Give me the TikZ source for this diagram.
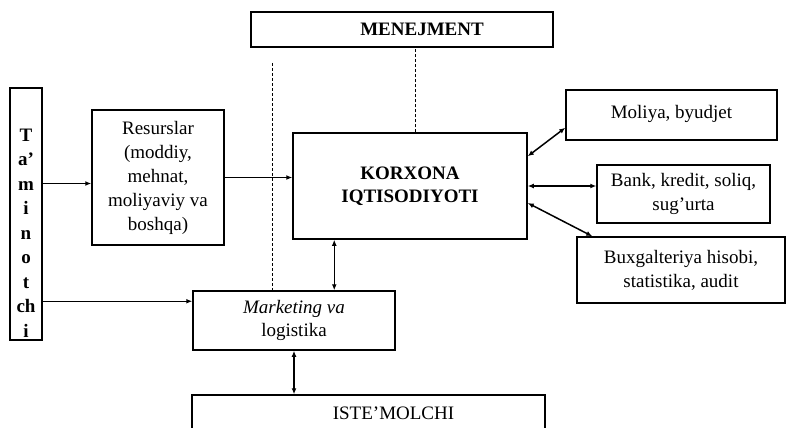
\documentclass[tikz,border=0pt]{standalone}
\usepackage{fontspec}
\setmainfont{Liberation Serif}
\usetikzlibrary{positioning,arrows.meta}

\begin{document}
\begin{tikzpicture}[x=1pt, y=-1pt,
  box/.style={draw, rectangle, line width=1.5pt, inner sep=0pt, align=center, font=\fontsize{19}{24}\selectfont},
  arr/.style={-{Latex[length=6pt,width=5pt]}, line width=1.5pt},
  darr/.style={{Latex[length=6pt,width=5pt]}-{Latex[length=6pt,width=5pt]}, line width=1.5pt},
  guide/.style={line width=0.5pt, dash pattern=on 3pt off 2pt}]
\useasboundingbox (0,0) rectangle (787,428);

\node[box, minimum width=302, minimum height=35, font=\bfseries\fontsize{19}{24}\selectfont] (Men) at (402,29.5) {\hspace*{40pt}MENEJMENT};
\node[box, minimum width=32, minimum height=252] (Tam) at (26,214) {};
\node[font=\bfseries\fontsize{19}{24.5}\selectfont, align=center] (TamText) at ([yshift=-19pt]Tam.center) {T\\a'\\m\\i\\n\\o\\t\\ch\\i};
\node[box, minimum width=132, minimum height=135] (Res) at (158,177.5) {Resurslar\\(moddiy,\\mehnat,\\moliyaviy va\\boshqa)};
\node[box, minimum width=234, minimum height=106, font=\bfseries\fontsize{19}{23}\selectfont] (Kor) at (410,186) {KORXONA\\IQTISODIYOTI};
\node[box, minimum width=211, minimum height=50] (Mol) at (671.5,115) {\raisebox{6pt}{Moliya, byudjet}};
\node[box, minimum width=173, minimum height=58] (Bank) at (683.5,194) {Bank, kredit, soliq,\\sug'urta};
\node[box, minimum width=208, minimum height=66] (Bux) at (681,270) {Buxgalteriya hisobi,\\statistika, audit};
\node[box, minimum width=202, minimum height=59, font=\fontsize{19}{23}\selectfont] (Mar) at (294,320.5) {\textit{Marketing va}\\logistika};
\node[box, minimum width=353, minimum height=36] (Ist) at (368.5,413) {\hspace*{50pt}ISTE'MOLCHI};

% dashed guides
\coordinate (G1) at (272,63);
\draw[guide] (G1) -- (G1 |- Mar.north);
\draw[guide] ([xshift=5pt]Kor.north) -- ([xshift=5pt]Kor.north |- Men.south);

% connectors
\coordinate (R1) at ([yshift=-6pt]Res.west);
\draw[arr] (Tam.east |- R1) -- (R1);
\draw[arr] (Res.east) -- (Res.east -| Kor.west);
\coordinate (M1) at ([yshift=-11pt]Mar.north west);
\draw[arr] (Tam.east |- M1) -- (M1);
\coordinate (K1) at ([xshift=42pt]Kor.south west);
\draw[darr] (K1) -- (K1 |- Mar.north);
\draw[darr] (Mar.south) -- (Mar.south |- Ist.north);
\draw[darr] ([yshift=-24pt]Kor.north east) -- ([yshift=13pt]Mol.south west);
\draw[darr] (Kor.east) -- (Kor.east -| Bank.west);
\draw[darr] ([yshift=-17pt]Kor.east) -- ([xshift=16pt]Bux.north west);
\end{tikzpicture}
\end{document}
